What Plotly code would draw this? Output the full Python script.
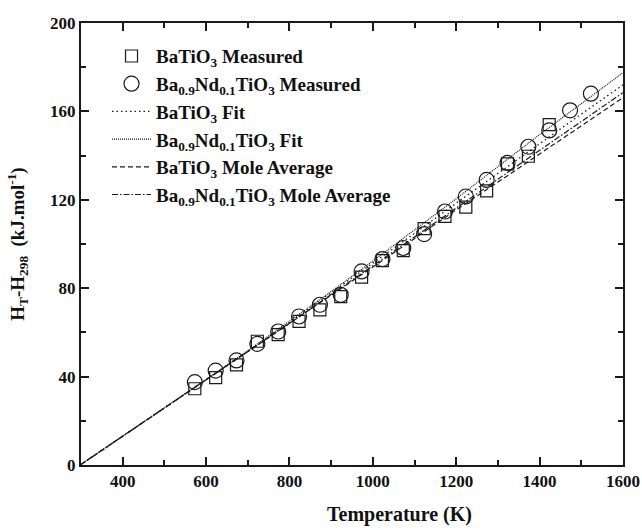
import plotly.graph_objects as go

# Measured data
T_meas_nd = [573, 623, 673, 723, 773, 823, 873, 923, 973, 1023, 1073, 1123,
             1173, 1223, 1273, 1323, 1373, 1423, 1473, 1523]
H_meas_nd = [37.5, 42.7, 47.3, 54.8, 60.4, 67.2, 72.5, 77.0, 87.6, 93.2, 98.2, 104.5,
             114.7, 121.5, 129.0, 136.7, 144.0, 151.4, 160.5, 168.0]

T_meas_ba = [573, 623, 673, 723, 773, 823, 873, 923, 973, 1023, 1073, 1123,
             1173, 1223, 1273, 1323, 1373, 1423]
H_meas_ba = [34.5, 39.5, 45.3, 56.0, 59.0, 65.0, 70.2, 76.2, 85.0, 92.5, 97.0, 107.0,
             112.5, 116.7, 124.0, 136.3, 139.7, 154.0]

# Fit / mole-average curves
T_line = [298, 400, 500, 600, 700, 800, 900, 1000, 1100, 1200, 1300, 1400, 1500, 1600]
H_fit_ba = [0, 13.0, 25.7, 38.5, 51.4, 64.5, 77.8, 91.2, 104.8, 118.5, 132.0, 145.5, 158.8, 172.0]
H_fit_nd = [0, 13.0, 25.8, 38.7, 51.7, 65.0, 78.5, 92.3, 106.3, 120.5, 135.0, 149.5, 163.5, 177.5]
H_avg_ba = [0, 13.0, 25.7, 38.3, 51.0, 63.8, 76.7, 89.6, 102.5, 115.5, 128.0, 140.8, 153.5, 166.2]
H_avg_nd = [0, 13.0, 25.7, 38.4, 51.2, 64.1, 77.1, 90.2, 103.3, 116.5, 129.5, 142.5, 155.5, 168.5]

x_ticks = [400, 600, 800, 1000, 1200, 1400, 1600]
y_ticks = [0, 40, 80, 120, 160, 200]

FONT = "Liberation Serif"
BA = "BaTiO<sub>3</sub>"
ND = "Ba<sub>0.9</sub>Nd<sub>0.1</sub>TiO<sub>3</sub>"
INK = "#1a1a1a"

fig = go.Figure()
fig.add_trace(go.Scatter(x=T_meas_ba, y=H_meas_ba, mode="markers", name=BA + " Measured",
                         marker=dict(symbol="square-open", size=12, color=INK,
                                     line=dict(width=1.2, color=INK))))
fig.add_trace(go.Scatter(x=T_meas_nd, y=H_meas_nd, mode="markers", name=ND + " Measured",
                         marker=dict(symbol="circle-open", size=15, color=INK,
                                     line=dict(width=1.2, color=INK))))
fig.add_trace(go.Scatter(x=T_line, y=H_fit_ba, mode="lines", name=BA + " Fit",
                         line=dict(color=INK, width=1.3, dash="1.5px,3px")))
fig.add_trace(go.Scatter(x=T_line, y=H_fit_nd, mode="lines", name=ND + " Fit",
                         line=dict(color=INK, width=1.2, dash="1px,1px")))
fig.add_trace(go.Scatter(x=T_line, y=H_avg_ba, mode="lines", name=BA + " Mole Average",
                         line=dict(color=INK, width=1.2, dash="5px,3px")))
fig.add_trace(go.Scatter(x=T_line, y=H_avg_nd, mode="lines", name=ND + " Mole Average",
                         line=dict(color=INK, width=1.2, dash="6px,2px,1.5px,2px")))

axis_common = dict(
    showline=True, linecolor=INK, linewidth=2, mirror="ticks",
    ticks="inside", ticklen=8, tickwidth=1.5, tickcolor=INK,
    showgrid=False, zeroline=False, automargin=False,
    tickfont=dict(family=FONT, size=17, color="#111", weight="bold"),
)

fig.update_xaxes(range=[300, 1600], tickvals=x_ticks,
                 minor=dict(ticks="inside", ticklen=5, tickwidth=1.5, tickcolor=INK, dtick=100),
                 **axis_common)
fig.update_yaxes(range=[0, 200], tickvals=y_ticks,
                 minor=dict(ticks="inside", ticklen=5, tickwidth=1.5, tickcolor=INK, dtick=20),
                 title=dict(text="H<sub>T</sub>-H<sub>298</sub>  (kJ.mol<sup>-1</sup>)", standoff=20,
                            font=dict(family=FONT, size=19, color="#111", weight="bold")),
                 **axis_common)

fig.add_annotation(text="Temperature (K)", xref="paper", yref="paper",
                   x=(399 - 81) / 542, y=-(514 - 465) / 442, xanchor="center", yanchor="middle",
                   showarrow=False,
                   font=dict(family=FONT, size=20, color="#111", weight="bold"))

fig.update_layout(
    width=642, height=530,
    margin=dict(l=81, r=19, t=23, b=65),
    plot_bgcolor="white", paper_bgcolor="white",
    legend=dict(x=0.048, y=0.968, xanchor="left", yanchor="top",
                bgcolor="rgba(0,0,0,0)",
                font=dict(family=FONT, size=19, color="#111", weight="bold"),
                tracegroupgap=0, itemwidth=39),
    showlegend=True,
)

fig.write_html("out.html", config={"displayModeBar": False},
               post_script="document.body.style.margin='0';document.body.style.overflow='hidden';")
